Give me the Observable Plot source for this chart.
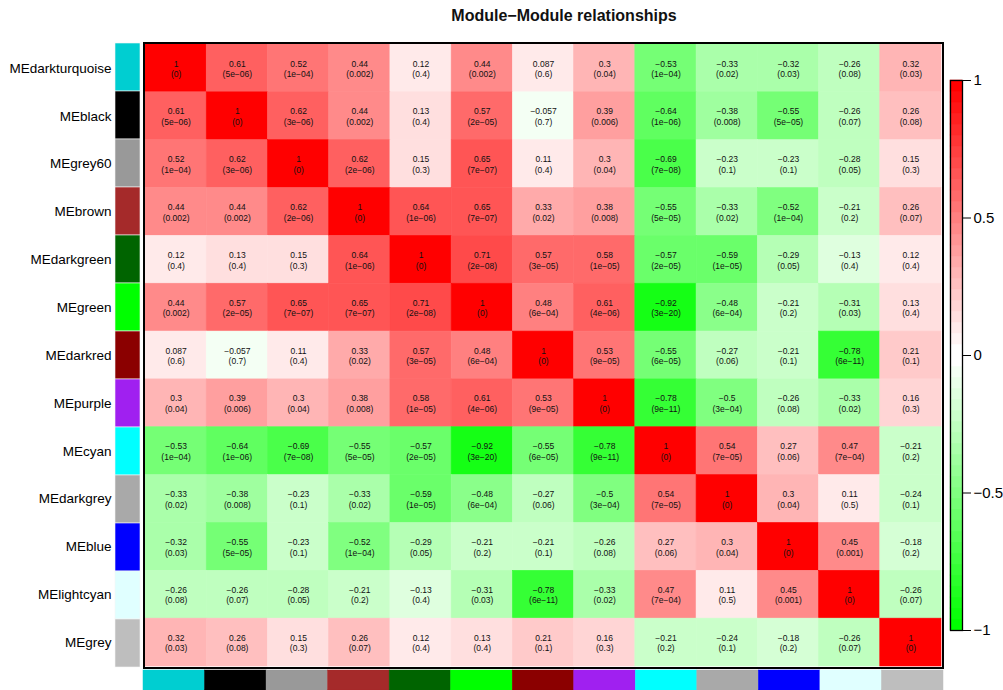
<!DOCTYPE html>
<html>
<head>
<meta charset="utf-8">
<script src="https://cdn.jsdelivr.net/npm/d3@7"></script>
<script src="https://cdn.jsdelivr.net/npm/@observablehq/plot@0.6"></script>
<style>
  html, body { margin: 0; padding: 0; background: #fff; }
  #wrap { position: relative; width: 1003px; height: 690px; overflow: hidden; font-family: "Liberation Sans", Arial, sans-serif; }
  #wrap > svg { position: absolute; left: 0; top: 0; }
  #title { position: absolute; left: 364px; top: 7px; width: 400px; text-align: center; font-weight: bold; font-size: 16px; color: #111; }
</style>
</head>
<body>
<div id="wrap"><div id="title">Module−Module relationships</div></div>
<script>
const modules = ["MEdarkturquoise","MEblack","MEgrey60","MEbrown","MEdarkgreen","MEgreen","MEdarkred","MEpurple","MEcyan","MEdarkgrey","MEblue","MElightcyan","MEgrey"];
const moduleColors = ["#00CED1","#000000","#999999","#A52A2A","#006400","#00FF00","#8B0000","#A020F0","#00FFFF","#A9A9A9","#0000FF","#E0FFFF","#BEBEBE"];

const corr = [
  [1, 0.61, 0.52, 0.44, 0.12, 0.44, 0.087, 0.3, -0.53, -0.33, -0.32, -0.26, 0.32],
  [0.61, 1, 0.62, 0.44, 0.13, 0.57, -0.057, 0.39, -0.64, -0.38, -0.55, -0.26, 0.26],
  [0.52, 0.62, 1, 0.62, 0.15, 0.65, 0.11, 0.3, -0.69, -0.23, -0.23, -0.28, 0.15],
  [0.44, 0.44, 0.62, 1, 0.64, 0.65, 0.33, 0.38, -0.55, -0.33, -0.52, -0.21, 0.26],
  [0.12, 0.13, 0.15, 0.64, 1, 0.71, 0.57, 0.58, -0.57, -0.59, -0.29, -0.13, 0.12],
  [0.44, 0.57, 0.65, 0.65, 0.71, 1, 0.48, 0.61, -0.92, -0.48, -0.21, -0.31, 0.13],
  [0.087, -0.057, 0.11, 0.33, 0.57, 0.48, 1, 0.53, -0.55, -0.27, -0.21, -0.78, 0.21],
  [0.3, 0.39, 0.3, 0.38, 0.58, 0.61, 0.53, 1, -0.78, -0.5, -0.26, -0.33, 0.16],
  [-0.53, -0.64, -0.69, -0.55, -0.57, -0.92, -0.55, -0.78, 1, 0.54, 0.27, 0.47, -0.21],
  [-0.33, -0.38, -0.23, -0.33, -0.59, -0.48, -0.27, -0.5, 0.54, 1, 0.3, 0.11, -0.24],
  [-0.32, -0.55, -0.23, -0.52, -0.29, -0.21, -0.21, -0.26, 0.27, 0.3, 1, 0.45, -0.18],
  [-0.26, -0.26, -0.28, -0.21, -0.13, -0.31, -0.78, -0.33, 0.47, 0.11, 0.45, 1, -0.26],
  [0.32, 0.26, 0.15, 0.26, 0.12, 0.13, 0.21, 0.16, -0.21, -0.24, -0.18, -0.26, 1]
];

const pvals = [
  ["0","5e-06","1e-04","0.002","0.4","0.002","0.6","0.04","1e-04","0.02","0.03","0.08","0.03"],
  ["5e-06","0","3e-06","0.002","0.4","2e-05","0.7","0.006","1e-06","0.008","5e-05","0.07","0.08"],
  ["1e-04","3e-06","0","2e-06","0.3","7e-07","0.4","0.04","7e-08","0.1","0.1","0.05","0.3"],
  ["0.002","0.002","2e-06","0","1e-06","7e-07","0.02","0.008","5e-05","0.02","1e-04","0.2","0.07"],
  ["0.4","0.4","0.3","1e-06","0","2e-08","3e-05","1e-05","2e-05","1e-05","0.05","0.4","0.4"],
  ["0.002","2e-05","7e-07","7e-07","2e-08","0","6e-04","4e-06","3e-20","6e-04","0.2","0.03","0.4"],
  ["0.6","0.7","0.4","0.02","3e-05","6e-04","0","9e-05","6e-05","0.06","0.1","6e-11","0.1"],
  ["0.04","0.006","0.04","0.008","1e-05","4e-06","9e-05","0","9e-11","3e-04","0.08","0.02","0.3"],
  ["1e-04","1e-06","7e-08","5e-05","2e-05","3e-20","6e-05","9e-11","0","7e-05","0.06","7e-04","0.2"],
  ["0.02","0.008","0.1","0.02","1e-05","6e-04","0.06","3e-04","7e-05","0","0.04","0.5","0.1"],
  ["0.03","5e-05","0.1","1e-04","0.05","0.2","0.1","0.08","0.06","0.04","0","0.001","0.2"],
  ["0.08","0.07","0.05","0.2","0.4","0.03","6e-11","0.02","7e-04","0.5","0.001","0","0.07"],
  ["0.03","0.08","0.3","0.07","0.4","0.4","0.1","0.3","0.2","0.1","0.2","0.07","0"]
];

const legendTicks = [-1, -0.5, 0, 0.5, 1];

// greenWhiteRed(50) palette (WGCNA style), binned over [-1, 1]
const nColors = 50, half = 25;
const palette = d3.range(nColors).map(i => {
  if (i < half) { const t = i / (half - 1); return d3.rgb(255 * t, 255, 255 * t).formatHex(); }
  const t = (i - half) / (half - 1); return d3.rgb(255, 255 * (1 - t), 255 * (1 - t)).formatHex();
});
const thresholds = d3.range(1, nColors).map(i => -1 + i * 2 / nColors);
const colorOpts = {type: "threshold", domain: thresholds, range: palette};

const minus = s => String(s).replace(/-/g, "\u2212");

const cells = [];
modules.forEach((r, i) => modules.forEach((c, j) => cells.push({row: r, col: c, r: corr[i][j], p: pvals[i][j]})));
const bars = modules.map((m, i) => ({m, color: moduleColors[i]}));

const W = 1003, H = 690;
const font = {fontFamily: "'Liberation Sans', Arial, sans-serif", background: "transparent", overflow: "visible"};
const wrap = document.getElementById("wrap");

// main heatmap
const main = Plot.plot({
  width: W, height: H,
  marginLeft: 145, marginRight: 62, marginTop: 44, marginBottom: 24,
  style: {...font, color: "#000"},
  x: {domain: modules, padding: 0, round: false, axis: null},
  y: {domain: modules, padding: 0, round: false, axis: null},
  color: colorOpts,
  marks: [
    Plot.cell(cells, {x: "col", y: "row", fill: "r", stroke: "r", strokeWidth: 0.6, inset: 0}),
    Plot.text(cells, {x: "col", y: "row", text: d => `${minus(d.r)}\n(${minus(d.p)})`, fontSize: 8.5, lineHeight: 1.25, fill: "#111"}),
    Plot.frame({stroke: "#000", strokeWidth: 2, inset: -1.5}),
    Plot.axisY({tickSize: 0, tickPadding: 34, fontSize: 13.5, label: null})
  ]
});
wrap.appendChild(main);

// left module color bars
const left = Plot.plot({
  width: W, height: H,
  marginLeft: 115, marginRight: W - 140, marginTop: 43, marginBottom: 23,
  style: font,
  x: {axis: null},
  y: {domain: modules, padding: 0, round: false, axis: null},
  marks: [
    Plot.cell(bars, {y: "m", fill: "color", inset: 0, stroke: "#f4f4f4", strokeWidth: 0.6})
  ]
});
wrap.appendChild(left);

// bottom module color bars
const bottom = Plot.plot({
  width: W, height: H,
  marginLeft: 143, marginRight: W - 943, marginTop: 670, marginBottom: 0,
  style: font,
  x: {domain: modules, padding: 0, round: false, axis: null},
  y: {axis: null},
  marks: [
    Plot.cell(bars, {x: "m", fill: "color", stroke: "color", strokeWidth: 0.5, inset: 0})
  ]
});
wrap.appendChild(bottom);

// colour key
const bins = d3.range(nColors).map(i => ({y1: -1 + i * 2 / nColors, y2: -1 + (i + 1) * 2 / nColors}));
const key = Plot.plot({
  width: W, height: H,
  marginLeft: 950, marginRight: W - 962, marginTop: 80, marginBottom: H - 630,
  style: {...font, color: "#000"},
  x: {domain: [0, 1], axis: null},
  y: {domain: [-1, 1], axis: null},
  color: colorOpts,
  marks: [
    Plot.rect(bins, {x1: 0, x2: 1, y1: "y1", y2: "y2", fill: d => (d.y1 + d.y2) / 2, stroke: d => (d.y1 + d.y2) / 2, strokeWidth: 0.5}),
    Plot.frame({stroke: "#000", strokeWidth: 1.3}),
    Plot.axisY({anchor: "right", ticks: legendTicks, tickSize: 8, tickPadding: 3, fontSize: 15,
      tickFormat: d => minus(d), label: null})
  ]
});
wrap.appendChild(key);
</script>
</body>
</html>
